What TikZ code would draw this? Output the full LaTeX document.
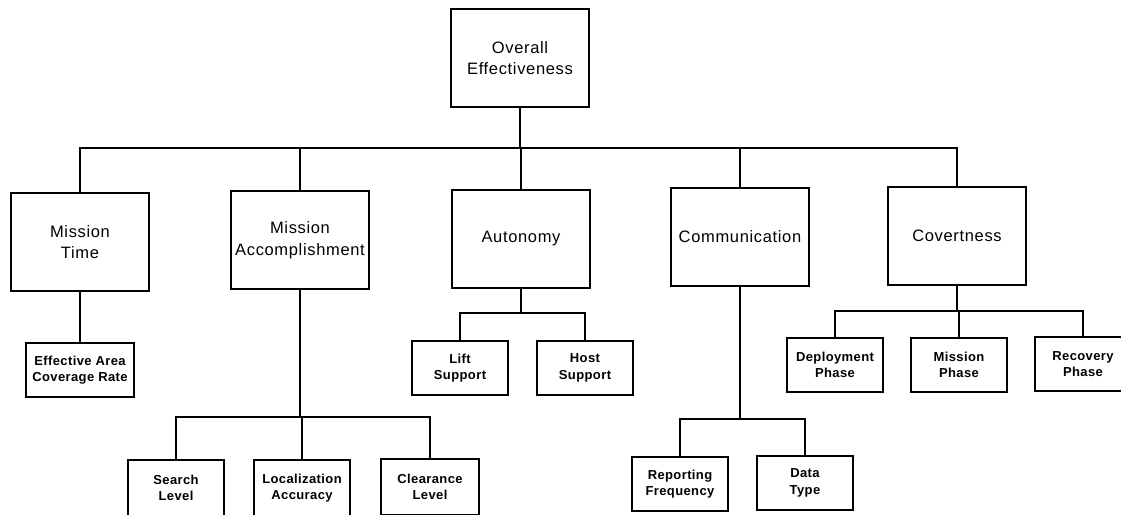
\documentclass[tikz,border=0pt]{standalone}
\usepackage{fontspec}
\setmainfont{Liberation Sans}
\newfontfamily\lonefont[LetterSpace=4]{Liberation Sans}
\newfontfamily\ltwofont[LetterSpace=3]{Liberation Sans}
\begin{document}
\begin{tikzpicture}[x=1pt,y=-1pt,
  box/.style={draw, line width=2pt, align=center, inner sep=0pt},
  lone/.style={box, minimum width=138pt, minimum height=98pt,
    font=\lonefont\fontsize{16.5}{21.5}\selectfont},
  ltwo/.style={box, minimum width=96pt, minimum height=54pt,
    font=\ltwofont\bfseries\fontsize{13}{16.5}\selectfont},
  link/.style={line width=2pt}]
\useasboundingbox (0,0) rectangle (1121,514);
\begin{scope}
\clip (0,0) rectangle (1121,514);
% top
\node[lone] (ov) at (520,58) {Overall\\Effectiveness};
% level 1
\node[lone] (mt) at (80,242) {Mission\\Time};
\node[lone] (ma) at (300,240) {Mission\\Accomplishment};
\node[lone] (au) at (521,239) {Autonomy};
\node[lone] (co) at (740,237) {Communication};
\node[lone] (cv) at (957,236) {Covertness};
% level 2
\node[ltwo, minimum width=108pt] (ea) at (80,370) {Effective Area\\Coverage Rate};
\node[ltwo] (ls) at (460,368) {Lift\\Support};
\node[ltwo] (hs) at (585,368) {Host\\Support};
\node[ltwo] (dp) at (835,365) {Deployment\\Phase};
\node[ltwo] (mp) at (959,365) {Mission\\Phase};
\node[ltwo] (rp) at (1083,364) {Recovery\\Phase};
\node[ltwo, minimum height=56pt] (sl) at (176,488) {Search\\Level};
\node[ltwo, minimum height=56pt] (la) at (302,488) {Localization\\Accuracy};
\node[ltwo, minimum height=56pt, minimum width=98pt] (cl) at (430,487) {Clearance\\Level};
\node[ltwo] (rf) at (680,484) {Reporting\\Frequency};
\node[ltwo] (dt) at (805,483) {Data\\Type};
% buses
\coordinate (bus) at (0,148);
\coordinate (busau) at (0,313);
\coordinate (buscv) at (0,311);
\coordinate (busma) at (0,417);
\coordinate (busco) at (0,419);
% connectors level 0-1
\draw[link] (ov.south) -- (ov.south |- bus);
\draw[link] (mt.north) -- (mt.north |- bus) -- (cv.north |- bus) -- (cv.north);
\draw[link] (ma.north) -- (ma.north |- bus);
\draw[link] (au.north) -- (au.north |- bus);
\draw[link] (co.north) -- (co.north |- bus);
% mission time
\draw[link] (mt.south) -- (ea.north);
% mission accomplishment
\draw[link] (ma.south) -- (ma.south |- busma);
\draw[link] (sl.north) -- (sl.north |- busma) -- (cl.north |- busma) -- (cl.north);
\draw[link] (la.north) -- (la.north |- busma);
% autonomy
\draw[link] (au.south) -- (au.south |- busau);
\draw[link] (ls.north) -- (ls.north |- busau) -- (hs.north |- busau) -- (hs.north);
% communication
\draw[link] (co.south) -- (co.south |- busco);
\draw[link] (rf.north) -- (rf.north |- busco) -- (dt.north |- busco) -- (dt.north);
% covertness
\draw[link] (cv.south) -- (cv.south |- buscv);
\draw[link] (dp.north) -- (dp.north |- buscv) -- (rp.north |- buscv) -- (rp.north);
\draw[link] (mp.north) -- (mp.north |- buscv);
\end{scope}
\end{tikzpicture}
\end{document}
